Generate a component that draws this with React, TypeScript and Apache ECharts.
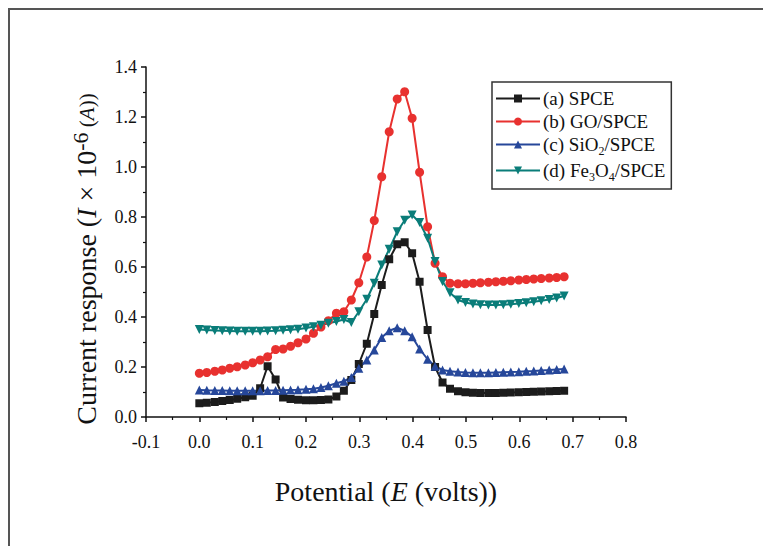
import React, { useEffect, useRef } from "react";
import * as echarts from "echarts";

const FONT = '"Liberation Serif", "Times New Roman", serif';

// Potential (V)
const potentials = [
  0, 0.014, 0.029, 0.043, 0.057, 0.071, 0.086, 0.1, 0.114, 0.128,
  0.143, 0.157, 0.171, 0.185, 0.2, 0.214, 0.228, 0.242, 0.257, 0.271,
  0.285, 0.299, 0.314, 0.328, 0.342, 0.356, 0.371, 0.385, 0.399, 0.413,
  0.428, 0.442, 0.456, 0.47, 0.485, 0.499, 0.513, 0.527, 0.542, 0.556,
  0.57, 0.584, 0.599, 0.613, 0.627, 0.641, 0.656, 0.67, 0.684,
];

// (a) SPCE
const spce = [
  0.055, 0.057, 0.06, 0.064, 0.068, 0.073, 0.079, 0.085, 0.115, 0.203,
  0.15, 0.078, 0.072, 0.069, 0.067, 0.067, 0.068, 0.07, 0.082, 0.105,
  0.148, 0.212, 0.293, 0.412, 0.528, 0.631, 0.691, 0.699, 0.655, 0.541,
  0.348, 0.2, 0.138, 0.113, 0.103, 0.099, 0.097, 0.096, 0.096, 0.096,
  0.097, 0.098, 0.099, 0.1, 0.101, 0.102, 0.103, 0.104, 0.105,
];

// (b) GO/SPCE
const goSpce = [
  0.175, 0.178, 0.183, 0.188, 0.195, 0.201, 0.208, 0.217, 0.228, 0.241,
  0.27, 0.272, 0.283, 0.297, 0.312, 0.335, 0.36, 0.385, 0.415, 0.421,
  0.468, 0.537, 0.64, 0.786, 0.961, 1.141, 1.272, 1.301, 1.195, 0.979,
  0.761, 0.615, 0.561, 0.535, 0.533, 0.533, 0.535, 0.537, 0.539, 0.541,
  0.543, 0.545, 0.548, 0.55, 0.552, 0.554, 0.556, 0.558, 0.561,
];

// (c) SiO2/SPCE
const sio2Spce = [
  0.108, 0.107, 0.106, 0.106, 0.105, 0.105, 0.105, 0.105, 0.105, 0.106,
  0.106, 0.107, 0.108, 0.109, 0.111, 0.113, 0.118, 0.125, 0.135, 0.143,
  0.158, 0.195, 0.228, 0.268, 0.318, 0.345, 0.357, 0.345, 0.321, 0.272,
  0.231, 0.203, 0.188, 0.183, 0.18, 0.178, 0.177, 0.177, 0.177, 0.178,
  0.179, 0.18, 0.181, 0.183, 0.184, 0.186, 0.188, 0.19, 0.192,
];

// (d) Fe3O4/SPCE
const fe3o4Spce = [
  0.35, 0.348, 0.346, 0.345, 0.344, 0.343, 0.343, 0.343, 0.343, 0.344,
  0.345, 0.347, 0.349, 0.351, 0.356, 0.361, 0.367, 0.375, 0.382, 0.39,
  0.378, 0.421, 0.471, 0.535, 0.608, 0.671, 0.741, 0.787, 0.808, 0.778,
  0.715, 0.622, 0.542, 0.497, 0.468, 0.458, 0.452, 0.449, 0.448, 0.448,
  0.449, 0.451, 0.454, 0.457, 0.461, 0.465, 0.47, 0.476, 0.484,
];

const seriesNames = ["(a) SPCE", "(b) GO/SPCE", "(c) SiO2/SPCE", "(d) Fe3O4/SPCE"];
const legendLabels: Record<string, string> = {
  "(a) SPCE": "{t|(a) SPCE}",
  "(b) GO/SPCE": "{t|(b) GO/SPCE}",
  "(c) SiO2/SPCE": "{t|(c) SiO}{s|2}{t|/SPCE}",
  "(d) Fe3O4/SPCE": "{t|(d) Fe}{s|3}{t|O}{s|4}{t|/SPCE}",
};
const seriesColors = ["#1c1c1c", "#e8312f", "#26479a", "#0a7d79"];
const seriesSymbols = ["rect", "circle", "triangle", "triangle"];
const seriesRotate = [0, 0, 0, 180];
const seriesSizes = [8, 9, 9, 9];
const seriesValues = [spce, goSpce, sio2Spce, fe3o4Spce];

export default function App() {
  const ref = useRef<HTMLDivElement>(null);
  useEffect(() => {
    if (!ref.current) return;
    const chart = echarts.init(ref.current, null, { renderer: "svg" });
    const axisColor = "#111";
    chart.setOption({
      animation: false,
      backgroundColor: "#ffffff",
      grid: { left: 146, right: 137, top: 67, bottom: 129, containLabel: false },
      xAxis: {
        type: "value",
        min: -0.1,
        max: 0.8,
        interval: 0.1,
        name: "{n|Potential (}{i|E}{n| (volts))}",
        nameLocation: "middle",
        nameGap: 58,
        nameTextStyle: {
          fontFamily: FONT,
          fontSize: 28,
          color: axisColor,
          lineHeight: 32,
          rich: {
            n: { fontFamily: FONT, fontSize: 28, lineHeight: 32, color: axisColor },
            i: { fontFamily: FONT, fontSize: 28, lineHeight: 32, fontStyle: "italic", color: axisColor },
          },
        },
        axisLine: { show: true, onZero: false, lineStyle: { color: axisColor, width: 1.5 } },
        axisTick: { show: true, inside: false, length: 5, lineStyle: { color: axisColor, width: 1.5 } },
        minorTick: { show: true, splitNumber: 2, length: 3, lineStyle: { color: axisColor, width: 1.2 } },
        axisLabel: {
          fontFamily: FONT,
          fontSize: 18,
          color: axisColor,
          margin: 16,
          formatter: (v: number) => v.toFixed(1),
        },
        splitLine: { show: false },
        minorSplitLine: { show: false },
      },
      yAxis: {
        type: "value",
        min: 0,
        max: 1.4,
        interval: 0.2,
        name: "{n|Current response (}{i|I}{n| × 10}{p|-6}{m| (}{mi|A}{m|))}",
        nameLocation: "middle",
        nameGap: 30,
        nameTextStyle: {
          fontFamily: FONT,
          fontSize: 28,
          color: axisColor,
          lineHeight: 34,
          padding: [0, 34, 0, 0],
          rich: {
            n: { fontFamily: FONT, fontSize: 28, lineHeight: 34, color: axisColor },
            i: { fontFamily: FONT, fontSize: 28, lineHeight: 34, fontStyle: "italic", color: axisColor },
            p: { fontFamily: FONT, fontSize: 22, lineHeight: 22, verticalAlign: "top", color: axisColor },
            m: { fontFamily: FONT, fontSize: 21, lineHeight: 34, color: axisColor },
            mi: { fontFamily: FONT, fontSize: 21, lineHeight: 34, fontStyle: "italic", color: axisColor },
          },
        },
        axisLine: { show: true, onZero: false, lineStyle: { color: axisColor, width: 1.5 } },
        axisTick: { show: true, inside: false, length: 5, lineStyle: { color: axisColor, width: 1.5 } },
        minorTick: { show: true, splitNumber: 2, length: 3, lineStyle: { color: axisColor, width: 1.2 } },
        axisLabel: {
          fontFamily: FONT,
          fontSize: 18,
          color: axisColor,
          margin: 9,
          formatter: (v: number) => v.toFixed(1),
        },
        splitLine: { show: false },
        minorSplitLine: { show: false },
      },
      legend: {
        orient: "vertical",
        left: 492,
        top: 82,
        backgroundColor: "#ffffff",
        borderColor: "#333",
        borderWidth: 1.5,
        padding: [7, 6, 6, 3],
        itemWidth: 44,
        itemHeight: 10,
        itemGap: 4,
        data: seriesNames,
        formatter: (name: string) => legendLabels[name],
        textStyle: {
          fontFamily: FONT,
          fontSize: 19,
          color: "#111",
          padding: [0, 0, 0, -2],
          rich: {
            t: { fontFamily: FONT, fontSize: 19, lineHeight: 20, color: "#111" },
            s: { fontFamily: FONT, fontSize: 12, lineHeight: 25, verticalAlign: "bottom", color: "#111" },
          },
        },
      },
      series: seriesNames.map((name, k) => ({
        name,
        type: "line",
        data: potentials.map((x, i) => [x, seriesValues[k][i]]),
        symbol: seriesSymbols[k],
        symbolSize: seriesSizes[k],
        symbolRotate: seriesRotate[k],
        showAllSymbol: true,
        lineStyle: { color: seriesColors[k], width: 2 },
        itemStyle: { color: seriesColors[k] },
        emphasis: { disabled: true },
      })),
    });
    return () => chart.dispose();
  }, []);

  return (
    <div
      style={{
        position: "fixed",
        left: 0,
        top: 0,
        width: 763,
        height: 546,
        overflow: "hidden",
        background: "#fff",
      }}
    >
      <div ref={ref} style={{ position: "absolute", left: 0, top: 0, width: 763, height: 546 }} />
      <div
        style={{
          position: "absolute",
          left: 8,
          top: 8,
          width: 760,
          height: 540,
          borderTop: "2px solid #555",
          borderLeft: "2px solid #555",
          pointerEvents: "none",
        }}
      />
    </div>
  );
}
